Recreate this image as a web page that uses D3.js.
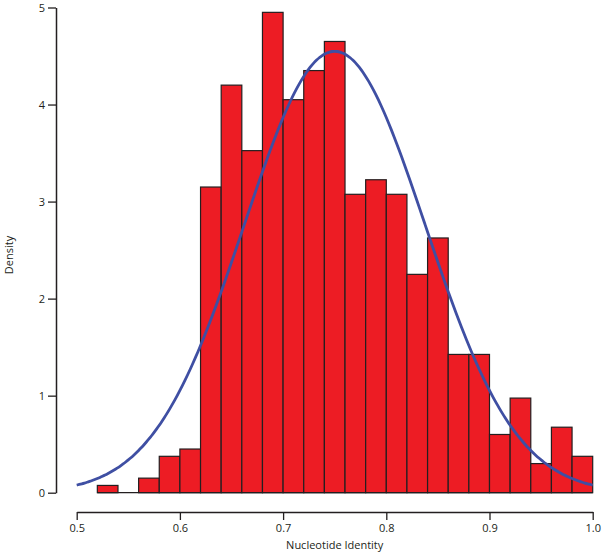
<!DOCTYPE html>
<html><head><meta charset="utf-8">
<script src="https://cdn.jsdelivr.net/npm/d3@7"></script>
<style>body{margin:0;background:#fff}svg{display:block}text{font-family:"Open Sans","Liberation Sans",sans-serif;fill:#231F20}</style>
</head><body><svg id="c" width="603" height="556"></svg>
<script>
// histogram bins (left edges) and densities
const binStarts = [0.52,0.54,0.56,0.58,0.60,0.62,0.64,0.66,0.68,0.70,0.72,0.74,0.76,0.78,0.80,0.82,0.84,0.86,0.88,0.90,0.92,0.94,0.96,0.98];
const densities = [0.075,0,0.150,0.375,0.450,3.150,4.200,3.525,4.950,4.050,4.350,4.650,3.075,3.225,3.075,2.250,2.625,1.425,1.425,0.600,0.975,0.300,0.675,0.375];
const binWidth = 0.02;
// fitted normal curve parameters
const fitMean = 0.75;
const fitSd = 0.0877;
const xTicks = [0.5,0.6,0.7,0.8,0.9,1.0];
const xTickLabels = ["0.5","0.6","0.7","0.8","0.9","1.0"];
const yTicks = [0,1,2,3,4,5];

const svg = d3.select("#c");
const x = d3.scaleLinear().domain([0.5,1.0]).range([76.7,592.7]);
const y = d3.scaleLinear().domain([0,5]).range([492.7,7.5]);
const ink = "#231F20";

// bars
svg.append("g").selectAll("rect").data(binStarts.map((s,i)=>({s,d:densities[i]})).filter(b=>b.d>0))
  .join("rect")
  .attr("x",b=>x(b.s)).attr("width",b=>x(b.s+binWidth)-x(b.s))
  .attr("y",b=>y(b.d)).attr("height",b=>y(0)-y(b.d))
  .attr("fill","#ED1C24").attr("stroke",ink).attr("stroke-width",1.2);
// baseline under bins
svg.append("line").attr("x1",x(binStarts[0])).attr("x2",x(binStarts[binStarts.length-1]+binWidth))
  .attr("y1",y(0)).attr("y2",y(0)).attr("stroke",ink).attr("stroke-width",1.2);

// normal curve
const pts = d3.range(0,201).map(i=>{const v=0.5+i*0.5/200;return [v,Math.exp(-0.5*((v-fitMean)/fitSd)**2)/(fitSd*Math.sqrt(2*Math.PI))];});
svg.append("path").datum(pts).attr("fill","none").attr("stroke","#3F4FA3").attr("stroke-width",2.8)
  .attr("d",d3.line().x(p=>x(p[0])).y(p=>y(p[1])).curve(d3.curveBasis));

// y axis
const ya = svg.append("g").attr("transform","translate(56,0)")
  .call(d3.axisLeft(y).tickValues(yTicks).tickFormat(d3.format("d")).tickSize(8).tickSizeOuter(0).tickPadding(3));
ya.select(".domain").attr("stroke",ink).attr("stroke-width",1.5);
ya.selectAll(".tick line").attr("stroke",ink).attr("stroke-width",1.3);
ya.selectAll("text").style("font-size","11px");
ya.selectAll("text").attr("fill",ink);

// x axis
const xa = svg.append("g").attr("transform","translate(0,512)")
  .call(d3.axisBottom(x).tickValues(xTicks).tickFormat((d,i)=>xTickLabels[i]).tickSize(8).tickSizeOuter(0).tickPadding(4));
xa.select(".domain").attr("stroke",ink).attr("stroke-width",1.5);
xa.selectAll(".tick line").attr("stroke",ink).attr("stroke-width",1.3);
xa.selectAll("text").style("font-size","11px").attr("fill",ink);

svg.append("text").attr("x",x(0.75)).attr("y",549).attr("text-anchor","middle").style("font-size","11px").text("Nucleotide Identity");
svg.append("text").attr("transform","translate(13,255) rotate(-90)").attr("text-anchor","middle").style("font-size","11px").text("Density");
</script></body></html>
